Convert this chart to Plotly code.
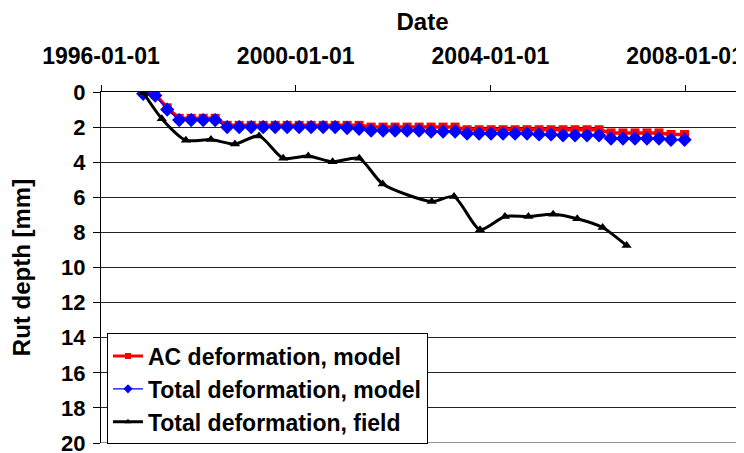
import plotly.graph_objects as go

model_dates = [
    "1996-11-13", "1997-02-11", "1997-05-12", "1997-08-10", "1997-11-08", "1998-02-06",
    "1998-05-07", "1998-08-05", "1998-11-03", "1999-02-01", "1999-05-02", "1999-07-31",
    "1999-10-29", "2000-01-27", "2000-04-26", "2000-07-25", "2000-10-23", "2001-01-21",
    "2001-04-21", "2001-07-20", "2001-10-18", "2002-01-16", "2002-04-16", "2002-07-15",
    "2002-10-13", "2003-01-11", "2003-04-11", "2003-07-10", "2003-10-08", "2004-01-06",
    "2004-04-05", "2004-07-04", "2004-10-02", "2004-12-31", "2005-03-31", "2005-06-29",
    "2005-09-27", "2005-12-26", "2006-03-26", "2006-06-24", "2006-09-22", "2006-12-21",
    "2007-03-21", "2007-06-19", "2007-09-17", "2007-12-28",
]

ac_model = [
    0.0, 0.15, 0.9, 1.5, 1.5, 1.5, 1.5, 1.9, 1.9, 1.9, 1.9, 1.9,
    1.9, 1.9, 1.9, 1.9, 1.9, 1.9, 1.9, 2.0, 2.0, 2.0, 2.0, 2.0,
    2.0, 2.0, 2.0, 2.15, 2.15, 2.15, 2.15, 2.15, 2.15, 2.15, 2.15, 2.15,
    2.15, 2.15, 2.15, 2.33, 2.33, 2.33, 2.33, 2.33, 2.42, 2.42,
]

total_model = [
    0.1, 0.2, 1.0, 1.6, 1.6, 1.6, 1.6, 2.0, 2.0, 2.0, 2.0, 2.0,
    2.0, 2.0, 2.0, 2.0, 2.0, 2.05, 2.1, 2.2, 2.2, 2.2, 2.2, 2.2,
    2.25, 2.25, 2.25, 2.37, 2.37, 2.37, 2.37, 2.37, 2.37, 2.42, 2.42, 2.47,
    2.47, 2.47, 2.47, 2.65, 2.65, 2.65, 2.65, 2.65, 2.72, 2.72,
]

field_dates = [
    "1996-11-13", "1997-04-01", "1997-09-29", "1998-04-05", "1998-10-02", "1999-04-01",
    "1999-09-29", "2000-04-04", "2000-10-04", "2001-04-22", "2001-10-15", "2002-10-18",
    "2003-04-03", "2003-10-15", "2004-04-19", "2004-10-12", "2005-04-16", "2005-10-14",
    "2006-04-22", "2006-10-19",
]

field_total = [
    0.03, 1.52, 2.75, 2.71, 2.97, 2.5, 3.78, 3.65, 3.98, 3.78, 5.24, 6.24,
    5.96, 7.85, 7.09, 7.09, 6.96, 7.22, 7.72, 8.75,
]

series_names = ["AC deformation, model", "Total deformation, model", "Total deformation, field"]
x_tick_vals = ["1996-01-01", "2000-01-01", "2004-01-01", "2008-01-01"]
x_tick_text = ["1996-01-01", "2000-01-01", "2004-01-01", "2008-01-01"]
y_tick_vals = [0, 2, 4, 6, 8, 10, 12, 14, 16, 18, 20]
y_max = 20

FONT = "Liberation Sans, Arial, sans-serif"

styles = [
    dict(line=dict(color="#ff0000", width=3.5), marker=dict(symbol="square", size=9, color="#ff0000"),
         leg_line=dict(color="#ff0000", width=3), leg_marker=dict(symbol="square", size=6, color="#ff0000")),
    dict(line=dict(color="#0000ff", width=1.5), marker=dict(symbol="diamond", size=11, color="#0000ff"),
         leg_line=dict(color="#0000ff", width=1.2), leg_marker=dict(symbol="diamond", size=7, color="#0000ff")),
    dict(line=dict(color="#000000", width=3, shape="spline", smoothing=0.7),
         marker=dict(symbol="triangle-up", size=9, color="#000000"),
         leg_line=dict(color="#000000", width=3), leg_marker=dict(symbol="triangle-up", size=6, color="#000000")),
]
xs = [model_dates, model_dates, field_dates]
ys = [ac_model, total_model, field_total]

fig = go.Figure()
for name, x, y, st in zip(series_names, xs, ys, styles):
    fig.add_trace(go.Scatter(x=x, y=y, name=name, mode="lines+markers",
                             line=st["line"], marker=st["marker"], showlegend=False))
for name, st in zip(series_names, styles):
    fig.add_trace(go.Scatter(x=[None], y=[None], name=name, mode="lines+markers",
                             line=st["leg_line"], marker=st["leg_marker"], showlegend=True))

# bottom gridline at the end of the y range
fig.add_shape(type="line", xref="paper", x0=0, x1=1, yref="y", y0=y_max, y1=y_max,
              line=dict(color="#222222", width=1), layer="below")

# the page body has an 8px margin, so the figure is offset by 8px
fig.update_layout(
    width=736, height=445,
    margin=dict(l=93, r=0, t=83.5, b=10, autoexpand=False),
    paper_bgcolor="white", plot_bgcolor="white",
    font=dict(family=FONT, color="black", size=22),
    showlegend=True,
    legend=dict(
        x=0.0093, y=0.312, xanchor="left", yanchor="top",
        bgcolor="white", bordercolor="black", borderwidth=1,
        font=dict(family=FONT, size=23, color="black", weight="bold"),
        tracegroupgap=0, itemwidth=30,
    ),
    xaxis=dict(
        type="date", side="top", automargin=False,
        range=["1996-01-01", "2009-03-18"],
        tickvals=x_tick_vals, ticktext=x_tick_text,
        tickfont=dict(family=FONT, size=23, weight="bold"),
        ticks="outside", ticklen=6, tickcolor="black", ticklabelstandoff=12,
        ticklabeloverflow="allow",
        showline=True, linecolor="black", linewidth=1,
        showgrid=False, zeroline=False,
        title=dict(text="Date", font=dict(family=FONT, size=24, weight="bold"), standoff=7),
    ),
    yaxis=dict(
        range=[y_max, 0], autorange=False, automargin=False,
        tickvals=y_tick_vals,
        tickfont=dict(family=FONT, size=22, weight="bold"),
        ticks="outside", ticklen=7, tickcolor="black", ticklabelstandoff=3,
        ticklabeloverflow="allow",
        showline=True, linecolor="black", linewidth=1.2,
        showgrid=True, gridcolor="#222222", gridwidth=1,
        zeroline=False,
        title=dict(text="Rut depth [mm]", font=dict(family=FONT, size=24, weight="bold"), standoff=27),
    ),
)

fig.write_html("out.html")
